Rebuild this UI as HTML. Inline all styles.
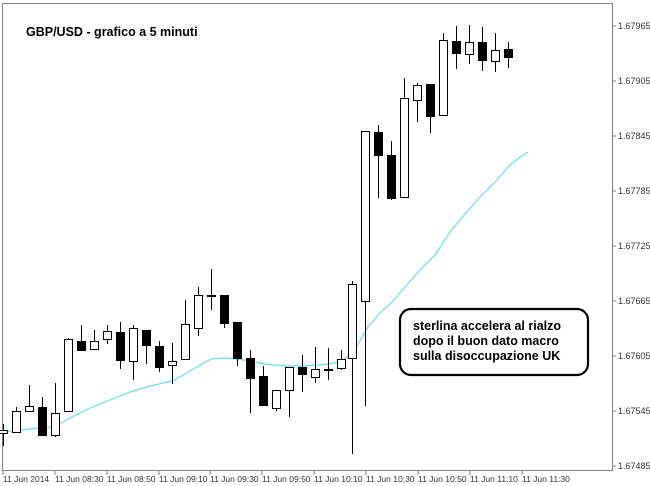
<!DOCTYPE html>
<html><head><meta charset="utf-8"><style>
html,body{margin:0;padding:0;background:#fff;width:650px;height:486px;overflow:hidden}
svg{display:block}
text{font-family:"Liberation Sans",sans-serif}
</style></head><body>
<svg width="650" height="486" viewBox="0 0 650 486" xmlns="http://www.w3.org/2000/svg">
<rect x="2.5" y="3.5" width="610" height="467" fill="#fff" stroke="#808080" stroke-width="1"/>
<g fill="#333" font-size="9">
<text x="618" y="29">1.67965</text>
<text x="618" y="84">1.67905</text>
<text x="618" y="139">1.67845</text>
<text x="618" y="194">1.67785</text>
<text x="618" y="249">1.67725</text>
<text x="618" y="304">1.67665</text>
<text x="618" y="359">1.67605</text>
<text x="618" y="414">1.67545</text>
<text x="618" y="469">1.67485</text>
</g>
<g stroke="#808080">
<line x1="613" y1="26" x2="616" y2="26"/><line x1="613" y1="81" x2="616" y2="81"/><line x1="613" y1="136" x2="616" y2="136"/><line x1="613" y1="191" x2="616" y2="191"/><line x1="613" y1="246" x2="616" y2="246"/><line x1="613" y1="301" x2="616" y2="301"/><line x1="613" y1="356" x2="616" y2="356"/><line x1="613" y1="411" x2="616" y2="411"/><line x1="613" y1="466" x2="616" y2="466"/>
<line x1="3" y1="471" x2="3" y2="475"/><line x1="55" y1="471" x2="55" y2="475"/><line x1="107" y1="471" x2="107" y2="475"/><line x1="159" y1="471" x2="159" y2="475"/><line x1="210" y1="471" x2="210" y2="475"/><line x1="262" y1="471" x2="262" y2="475"/><line x1="314" y1="471" x2="314" y2="475"/><line x1="366" y1="471" x2="366" y2="475"/><line x1="418" y1="471" x2="418" y2="475"/><line x1="470" y1="471" x2="470" y2="475"/><line x1="522" y1="471" x2="522" y2="475"/>
</g>
<g fill="#333" font-size="8.5">
<text x="3" y="482">11 Jun 2014</text>
<text x="55" y="482">11 Jun 08:30</text>
<text x="107" y="482">11 Jun 08:50</text>
<text x="159" y="482">11 Jun 09:10</text>
<text x="210" y="482">11 Jun 09:30</text>
<text x="262" y="482">11 Jun 09:50</text>
<text x="314" y="482">11 Jun 10:10</text>
<text x="366" y="482">11 Jun 10:30</text>
<text x="418" y="482">11 Jun 10:50</text>
<text x="470" y="482">11 Jun 11:10</text>
<text x="522" y="482">11 Jun 11:30</text>
</g>
<text x="26" y="36" font-size="12.5" font-weight="bold" fill="#000">GBP/USD - grafico a 5 minuti</text>
<polyline fill="none" stroke="#5fe0e8" stroke-width="1.2" points="3,432 20,430 40,428 55,427 70,418 90,408 110,400 130,392 150,386 172,381 185,374 200,365 211,359 224,358 237,359 250,361 265,364 285,366 300,366 320,365 340,362 350,355 358,344 368,327 380,313 392,302 405,287 420,270 435,255 450,232 465,214 480,197 495,182 510,165 520,157 528,152"/>
<g stroke="#000" stroke-width="1">
<!-- wicks -->
<line x1="3.5" y1="424" x2="3.5" y2="446"/>
<line x1="16.5" y1="407" x2="16.5" y2="433"/>
<line x1="29.5" y1="385" x2="29.5" y2="412"/>
<line x1="42.5" y1="397" x2="42.5" y2="436"/>
<line x1="55.5" y1="383" x2="55.5" y2="437"/>
<line x1="68.5" y1="338" x2="68.5" y2="412"/>
<line x1="81.5" y1="325" x2="81.5" y2="350"/>
<line x1="94.5" y1="330" x2="94.5" y2="349"/>
<line x1="107.5" y1="325" x2="107.5" y2="344"/>
<line x1="120.5" y1="322" x2="120.5" y2="369"/>
<line x1="133.5" y1="325" x2="133.5" y2="380"/>
<line x1="146.5" y1="330" x2="146.5" y2="364"/>
<line x1="159.5" y1="341" x2="159.5" y2="372"/>
<line x1="172.5" y1="343" x2="172.5" y2="384"/>
<line x1="185.5" y1="300" x2="185.5" y2="359"/>
<line x1="198.5" y1="287" x2="198.5" y2="336"/>
<line x1="211.5" y1="269" x2="211.5" y2="310"/>
<line x1="224.5" y1="295" x2="224.5" y2="328"/>
<line x1="237.5" y1="322" x2="237.5" y2="366"/>
<line x1="250.5" y1="350" x2="250.5" y2="413"/>
<line x1="263.5" y1="366" x2="263.5" y2="405"/>
<line x1="276.5" y1="390" x2="276.5" y2="411"/>
<line x1="289.5" y1="367" x2="289.5" y2="417"/>
<line x1="302.5" y1="355" x2="302.5" y2="392"/>
<line x1="315.5" y1="347" x2="315.5" y2="383"/>
<line x1="328.5" y1="348" x2="328.5" y2="380"/>
<line x1="341.5" y1="350" x2="341.5" y2="370"/>
<line x1="352.5" y1="281" x2="352.5" y2="454"/>
<line x1="365.5" y1="131" x2="365.5" y2="406"/>
<line x1="378.5" y1="125" x2="378.5" y2="198"/>
<line x1="391.5" y1="141" x2="391.5" y2="200"/>
<line x1="404.5" y1="78" x2="404.5" y2="198"/>
<line x1="417.5" y1="83" x2="417.5" y2="122"/>
<line x1="430.5" y1="84" x2="430.5" y2="133"/>
<line x1="443.5" y1="33" x2="443.5" y2="115"/>
<line x1="456.5" y1="26" x2="456.5" y2="69"/>
<line x1="469.5" y1="25" x2="469.5" y2="64"/>
<line x1="482.5" y1="27" x2="482.5" y2="71"/>
<line x1="495.5" y1="33" x2="495.5" y2="72"/>
<line x1="508.5" y1="42" x2="508.5" y2="68"/>
</g>
<g stroke="#000" stroke-width="1">
<!-- white bodies -->
<g fill="#fff">
<rect x="-0.5" y="430.5" width="8" height="3"/>
<rect x="12.5" y="411.5" width="8" height="21"/>
<rect x="25.5" y="406.5" width="8" height="5"/>
<rect x="51.5" y="413.5" width="8" height="22"/>
<rect x="64.5" y="339.5" width="8" height="72"/>
<rect x="90.5" y="341.5" width="8" height="8"/>
<rect x="103.5" y="331.5" width="8" height="8"/>
<rect x="129.5" y="328.5" width="8" height="33"/>
<rect x="168.5" y="361.5" width="8" height="4"/>
<rect x="181.5" y="324.5" width="8" height="35"/>
<rect x="194.5" y="295.5" width="8" height="33"/>
<rect x="207.5" y="295.5" width="8" height="1"/>
<rect x="272.5" y="390.5" width="8" height="18"/>
<rect x="285.5" y="367.5" width="8" height="23"/>
<rect x="311.5" y="369.5" width="8" height="8"/>
<rect x="324.5" y="369.5" width="8" height="1"/>
<rect x="337.5" y="359.5" width="8" height="9"/>
<rect x="348.5" y="284.5" width="8" height="74"/>
<rect x="361.5" y="131.5" width="8" height="170"/>
<rect x="400.5" y="98.5" width="8" height="99"/>
<rect x="413.5" y="85.5" width="8" height="15"/>
<rect x="439.5" y="40.5" width="8" height="75"/>
<rect x="465.5" y="42.5" width="8" height="12"/>
<rect x="491.5" y="50.5" width="8" height="11"/>
</g>
<g fill="#000">
<rect x="38.5" y="407.5" width="8" height="28"/>
<rect x="77.5" y="341.5" width="8" height="9"/>
<rect x="116.5" y="332.5" width="8" height="28"/>
<rect x="142.5" y="330.5" width="8" height="15"/>
<rect x="155.5" y="346.5" width="8" height="21"/>
<rect x="220.5" y="295.5" width="8" height="28"/>
<rect x="233.5" y="322.5" width="8" height="36"/>
<rect x="246.5" y="358.5" width="8" height="20"/>
<rect x="259.5" y="376.5" width="8" height="29"/>
<rect x="298.5" y="367.5" width="8" height="7"/>
<rect x="374.5" y="132.5" width="8" height="23"/>
<rect x="387.5" y="155.5" width="8" height="43"/>
<rect x="426.5" y="84.5" width="8" height="32"/>
<rect x="452.5" y="41.5" width="8" height="12"/>
<rect x="478.5" y="42.5" width="8" height="18"/>
<rect x="504.5" y="49.5" width="8" height="8"/>
</g>
</g>
<rect x="400" y="309" width="188" height="66" rx="11" ry="11" fill="#fff" stroke="#000" stroke-width="2.2"/>
<g font-size="12.5" font-weight="bold" fill="#000">
<text x="413" y="330">sterlina accelera al rialzo</text>
<text x="413" y="345">dopo il buon dato macro</text>
<text x="413" y="360">sulla disoccupazione UK</text>
</g>
</svg>
</body></html>
